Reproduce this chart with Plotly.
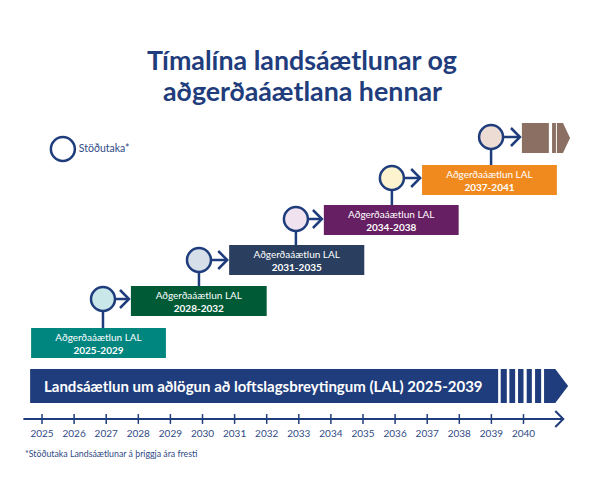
import plotly.graph_objects as go

# timeline
years = list(range(2025, 2041))

# action plans
plan_labels = ["2025-2029", "2028-2032", "2031-2035", "2034-2038", "2037-2041"]
plan_starts = [2024.66, 2027.77, 2030.83, 2033.78, 2036.84]
plan_ends = [2028.86, 2032.0, 2035.04, 2037.98, 2041.04]
plan_rows = [343, 301, 260, 220, 180]
plan_colors = ["#00857f", "#005a36", "#2a3f5f", "#671f63", "#f08a1f"]

# checkpoints
check_years = [2026.9, 2029.89, 2032.91, 2035.9, 2038.99]
check_rows = [299, 260, 219, 178, 137]
check_fills = ["#c9e6e8", "#d6deea", "#f0e3ef", "#fdf3cf", "#ecdcd3"]

# national plan bar + fading stripes
main_start = 2024.63
main_end = 2039.21
main_row = 386
stripe_starts = [2039.29, 2039.56, 2039.83, 2040.10, 2040.36]
stripe_ends = [2039.48, 2039.74, 2040.0, 2040.26, 2040.55]
main_tip = [2040.64, 2040.99, 2041.39]

# continuation after last plan
next_start = 2039.95
next_end = 2040.79
next_stripe = [2040.89, 2041.01]
next_row = 138
next_tip = [2041.04, 2041.23, 2041.45]

BLUE = "#1f3d7c"
TEXT = "#2f4a85"
BROWN = "#8a6f62"
FONT = "Lato"

# the page has an 8px body margin, so the plot area starts at 8,8
LEFT = 8
TOP = 8
WIDTH = 584
HEIGHT = 472
PX_PER_YEAR = 32.1
X0 = 2025 - (42 - LEFT) / PX_PER_YEAR

fig = go.Figure()

# main bar and stripes
fig.add_trace(go.Bar(
    y=[main_row] * 6,
    base=[main_start] + stripe_starts,
    x=[main_end - main_start] + [e - s for s, e in zip(stripe_starts, stripe_ends)],
    width=34, orientation="h", marker_color=BLUE, marker_line_width=0,
))
fig.add_trace(go.Scatter(
    x=[main_tip[0], main_tip[1], main_tip[2], main_tip[1], main_tip[0], main_tip[0]],
    y=[main_row - 17, main_row - 17, main_row, main_row + 17, main_row + 17, main_row - 17],
    mode="lines", fill="toself", fillcolor=BLUE, line_width=0,
))

# brown continuation
fig.add_trace(go.Bar(
    y=[next_row] * 2,
    base=[next_start, next_stripe[0]],
    x=[next_end - next_start, next_stripe[1] - next_stripe[0]],
    width=30, orientation="h", marker_color=BROWN, marker_line_width=0,
))
fig.add_trace(go.Scatter(
    x=[next_tip[0], next_tip[1], next_tip[2], next_tip[1], next_tip[0], next_tip[0]],
    y=[next_row - 15, next_row - 15, next_row, next_row + 15, next_row + 15, next_row - 15],
    mode="lines", fill="toself", fillcolor=BROWN, line_width=0,
))

# action plan boxes
fig.add_trace(go.Bar(
    y=plan_rows,
    base=plan_starts,
    x=[e - s for s, e in zip(plan_starts, plan_ends)],
    width=30, orientation="h",
    marker_color=plan_colors, marker_line_width=0,
    text=["Aðgerðaáætlun LAL<br><b>" + p + "</b>" for p in plan_labels],
    textposition="inside", insidetextanchor="middle", textangle=0,
    constraintext="none",
    insidetextfont=dict(family=FONT, size=10, color="white"),
))

# connectors and arrows from each checkpoint
cx, cy = [], []
next_box_starts = plan_starts[1:] + [next_start]
for x, y, top, box in zip(check_years, check_rows, plan_rows, next_box_starts):
    cx += [x, x, None, x, box - 0.06, None, box - 0.34, box - 0.06, box - 0.34, None]
    cy += [y, top - 15, None, y, y, None, y - 9, y, y + 9, None]
fig.add_trace(go.Scatter(x=cx, y=cy, mode="lines", line=dict(color=BLUE, width=2.5)))

fig.add_trace(go.Scatter(
    x=check_years, y=check_rows, mode="markers",
    marker=dict(size=24, color=check_fills, line=dict(color=BLUE, width=2.5)),
))

# legend circle
fig.add_trace(go.Scatter(
    x=[2025.65], y=[149], mode="markers+text",
    marker=dict(size=24, color="white", line=dict(color=BLUE, width=2.5)),
    text=["Stöðutaka*"], textposition="middle right",
    textfont=dict(family=FONT, size=10.5, color=TEXT),
))

# time axis line, arrow head and ticks
fig.add_trace(go.Scatter(
    x=[2024.42, 2041.24, None, 2040.99, 2041.24, 2040.99],
    y=[419, 419, None, 411, 419, 427],
    mode="lines", line=dict(color=BLUE, width=2),
))
fig.add_trace(go.Scatter(
    x=years, y=[419] * len(years), mode="markers",
    marker=dict(symbol="line-ns", size=7, line=dict(color=BLUE, width=1.5)),
))

fig.add_annotation(x=main_start + 0.36, y=main_row, text="<b>Landsáætlun um aðlögun að loftslagsbreytingum (LAL) 2025-2039</b>",
                   showarrow=False, xanchor="left", font=dict(family=FONT, size=15, color="white"))
fig.add_annotation(x=(302 - LEFT) / WIDTH, y=60, xref="paper", text="<b>Tímalína landsáætlunar og</b>", showarrow=False,
                   font=dict(family=FONT, size=26.8, color=BLUE))
fig.add_annotation(x=(302 - LEFT) / WIDTH, y=91, xref="paper", text="<b>aðgerðaáætlana hennar</b>", showarrow=False,
                   font=dict(family=FONT, size=26.8, color=BLUE))
fig.add_annotation(x=(23 - LEFT) / WIDTH, y=453, xref="paper", text="*Stöðutaka Landsáætlunar á þriggja ára fresti", showarrow=False,
                   xanchor="left", font=dict(family=FONT, size=8.8, color=TEXT))

fig.update_layout(
    width=WIDTH, height=HEIGHT,
    margin=dict(l=0, r=0, t=0, b=0),
    paper_bgcolor="white", plot_bgcolor="white",
    showlegend=False, barmode="overlay",
    xaxis=dict(
        range=[X0, X0 + WIDTH / PX_PER_YEAR], domain=[0, 1],
        anchor="free", position=(TOP + HEIGHT - 419) / HEIGHT,
        tickmode="array", tickvals=years, ticktext=[str(y) for y in years],
        ticks="", ticklabelstandoff=7, showgrid=False, zeroline=False, showline=False,
        tickfont=dict(family=FONT, size=10, color=TEXT),
    ),
    yaxis=dict(range=[TOP + HEIGHT, TOP], domain=[0, 1], visible=False),
)

fig.write_html("out.html")
